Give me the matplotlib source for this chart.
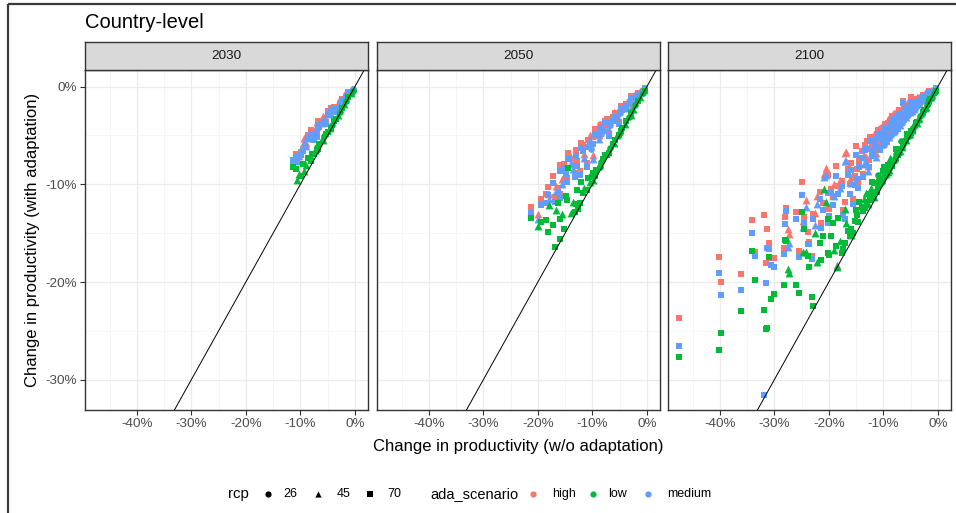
import numpy as np
import matplotlib.pyplot as plt
from matplotlib.ticker import FuncFormatter, MultipleLocator

plt.rcParams['font.family'] = ['Liberation Sans', 'DejaVu Sans']

# ---------------- data (percent change in productivity) ----------------
years = ['2030', '2050', '2100']
scen_colors = {'high': '#F8766D', 'low': '#00BA38', 'medium': '#619CFF'}
rcp_markers = {26: 'o', 45: '^', 70: 's'}

# one row per country/rcp: x = w/o adaptation, then y for each ada_scenario
x_2030 = [-11.4, -9.5, -9.0, -8.6, -8.2, -7.8, -7.3, -6.9, -6.5, -6.0, -5.6, -5.0, -4.6, -4.2,
          -3.8, -3.1, -2.8, -2.4, -2.0, -1.6, -1.2, -0.8, -0.4, -10.2, -7.0, -5.3, -3.5, -9.9,
          -10.8, -9.3, -8.0, -6.7, -5.8, -4.4, -7.5, -10.6]
rcp_2030 = [70, 70, 45, 70, 26, 70, 45, 26, 70, 45, 26, 70, 45, 26,
            70, 45, 26, 70, 45, 26, 70, 45, 26, 45, 70, 70, 70, 70,
            70, 45, 70, 70, 45, 70, 70, 45]
high_2030 = [-7.5, -6.4, -5.8, -5.0, -5.1, -4.6, -4.4, -3.9, -3.8, -3.4, -3.3, -2.5, -2.6, -2.3,
             -2.1, -1.7, -1.5, -1.3, -1.1, -0.8, -0.6, -0.4, -0.2, -6.8, -4.9, -3.6, -2.4, -6.7,
             -6.9, -5.3, -4.4, -3.5, -3.0, -2.2, -5.2, -7.3]
med_2030 = [-7.6, -6.6, -6.1, -5.4, -5.4, -4.9, -4.7, -4.3, -4.1, -3.7, -3.5, -2.9, -2.8, -2.5,
            -2.3, -1.9, -1.7, -1.4, -1.2, -0.9, -0.7, -0.5, -0.2, -7.1, -5.2, -3.8, -2.6, -7.0,
            -7.2, -5.7, -4.8, -3.9, -3.3, -2.5, -5.5, -7.6]
low_2030 = [-8.2, -7.9, -8.0, -7.3, -7.3, -6.9, -6.5, -6.2, -5.9, -5.4, -5.1, -4.6, -4.2, -3.9,
            -3.5, -2.9, -2.6, -2.2, -1.8, -1.5, -1.1, -0.7, -0.4, -8.9, -6.5, -4.9, -3.3, -9.2,
            -8.4, -8.6, -7.6, -6.4, -5.5, -4.2, -6.9, -9.6]

x_2050 = [-21.2, -18.2, -18.5, -17.9, -16.6, -15.6, -16.3, -14.5, -14.6, -14.8, -12.7, -12.8,
          -12.1, -13.5, -11.5, -10.8, -10.2, -9.8, -9.3, -8.8, -8.4, -8.0, -7.6, -7.2, -6.8,
          -6.3, -5.9, -5.4, -5.0, -4.5, -4.1, -3.8, -3.3, -2.9, -2.5, -2.1, -1.6, -1.2, -0.8,
          -0.4, -11.0, -9.9, -13.2, -15.2, -16.9, -7.0, -5.2, -3.0,
          -19.5, -17.2, -15.9, -14.0, -13.0, -11.8, -10.5, -9.6, -8.6, -7.4, -6.1, -4.8,
          -20.0, -16.0, -12.3]
rcp_2050 = [70, 70, 70, 45, 45, 45, 70, 70, 70, 70, 70, 70,
            70, 45, 45, 70, 26, 70, 70, 45, 26, 70, 70, 45, 26,
            70, 70, 45, 26, 70, 45, 70, 26, 70, 45, 26, 70, 45, 26,
            70, 70, 45, 70, 70, 70, 70, 70, 45,
            70, 70, 70, 45, 70, 70, 45, 70, 26, 70, 45, 70,
            45, 70, 70]
high_2050 = [-12.3, -10.3, -11.0, -11.0, -10.2, -9.5, -10.4, -6.8, -9.4, -8.6, -9.0, -7.6,
             -5.8, -7.9, -6.9, -5.5, -6.0, -5.2, -4.6, -5.0, -4.4, -4.0, -3.5, -3.8, -3.5,
             -3.1, -2.7, -2.7, -2.4, -2.2, -2.0, -1.8, -1.5, -1.0, -1.1, -0.9, -0.7, -0.5, -0.3,
             -0.1, -7.8, -7.0, -8.8, -7.9, -11.3, -4.8, -3.6, -2.1,
             -11.5, -9.2, -8.0, -7.2, -6.5, -6.0, -5.0, -4.3, -3.8, -3.3, -2.6, -2.0,
             -13.0, -11.0, -8.6]
med_2050 = [-12.9, -11.1, -11.9, -11.5, -10.7, -10.0, -10.9, -7.4, -9.8, -9.0, -12.2, -8.1,
            -6.3, -8.4, -7.3, -6.2, -6.4, -5.9, -5.0, -5.4, -4.8, -4.5, -3.7, -4.2, -3.9,
            -3.5, -3.1, -3.0, -2.7, -2.4, -2.2, -2.0, -1.7, -1.3, -1.3, -1.1, -0.8, -0.6, -0.4,
            -0.2, -8.2, -7.4, -9.3, -8.3, -11.8, -5.1, -3.8, -2.3,
            -12.1, -9.9, -8.6, -7.8, -7.1, -6.6, -5.5, -4.8, -4.2, -3.7, -3.0, -2.3,
            -13.5, -11.4, -9.0]
low_2050 = [-13.4, -14.9, -13.7, -12.1, -12.6, -13.0, -11.9, -8.3, -11.6, -11.2, -12.5, -10.6,
            -9.8, -11.8, -10.4, -9.4, -9.2, -8.8, -8.5, -8.0, -7.7, -7.4, -7.0, -6.7, -6.3,
            -5.9, -5.5, -5.0, -4.7, -4.2, -3.8, -3.5, -3.1, -2.7, -2.3, -1.9, -1.5, -1.1, -0.7,
            -0.4, -10.6, -9.6, -12.8, -14.6, -16.4, -6.8, -5.0, -2.9,
            -13.9, -14.2, -13.5, -12.9, -12.0, -10.9, -9.8, -9.1, -8.2, -7.0, -5.8, -4.5,
            -14.3, -15.6, -11.9]

x_2100 = [-47.4, -40.2, -39.8, -36.2, -34.1, -33.5, -31.9, -31.6, -31.3, -30.6, -30.1, -31.0,
          -28.3, -28.1, -27.8, -27.5, -27.4, -26.0, -25.5, -24.9, -24.8, -24.2, -24.5, -23.9,
          -23.7, -23.1, -22.9, -22.6, -22.1, -21.4, -21.0, -20.8, -20.5, -20.2, -20.2, -19.9,
          -19.6, -19.0, -18.7, -18.5, -18.3, -17.1, -17.1, -16.8, -16.2, -15.9, -15.2, -15.0,
          -14.9, -14.0, -13.5, -13.0, -12.6, -12.2, -11.6, -11.2, -10.8, -10.4, -10.0, -9.6,
          -9.2, -9.0, -8.7, -8.3, -8.0, -7.6, -7.2, -6.8, -6.4, -6.0, -5.6, -5.2, -4.9, -4.5,
          -4.0, -3.6, -3.2, -2.8, -2.4, -2.0, -1.6, -1.2, -0.8, -0.4, -11.9, -11.4, -10.6,
          -9.9, -9.4, -8.9, -8.5, -7.9, -7.4, -7.0, -6.6, -6.2, -5.8, -5.4, -5.0, -4.7, -4.2,
          -3.8, -3.4, -3.0, -2.6, -2.2, -1.8, -1.4, -1.0, -0.6, -13.8, -12.9, -14.6, -16.0,
          -17.6, -15.5,
          -13.3, -12.4, -11.8, -11.0, -10.3, -9.7, -9.1, -8.4, -7.8, -7.1, -6.5, -5.9, -5.3,
          -4.6, -3.9, -13.1, -12.0, -10.9, -9.8, -8.8, -7.7, -6.7, -5.6, -4.4, -14.4, -16.5,
          -18.0, -19.3, -21.7, -17.4]
rcp_2100 = [70, 70, 70, 70, 70, 70, 70, 70, 70, 70, 70, 70,
            70, 70, 70, 45, 45, 70, 70, 70, 45, 45, 70, 70,
            70, 70, 70, 45, 45, 70, 70, 45, 45, 70, 70, 70,
            70, 45, 70, 45, 70, 70, 45, 45, 70, 70, 70, 70,
            70, 70, 45, 70, 70, 45, 70, 70, 45, 70, 70, 45,
            70, 26, 70, 45, 70, 26, 70, 45, 70, 26, 70, 45, 70, 26,
            70, 45, 26, 70, 45, 26, 70, 45, 26, 70, 70, 45, 70,
            26, 70, 45, 70, 26, 70, 45, 26, 70, 45, 26, 70, 45, 26,
            70, 45, 26, 70, 45, 26, 70, 45, 26, 70, 45, 70, 45,
            70, 70,
            70, 70, 45, 70, 26, 70, 45, 70, 26, 70, 45, 70, 26,
            70, 45, 45, 70, 26, 70, 45, 70, 26, 70, 45, 70, 70,
            45, 70, 70, 70]
high_2100 = [-23.7, -17.4, -20.0, -19.2, -13.7, -16.9, -13.1, -18.1, -14.6, -17.5, -17.5, -16.0,
             -16.5, -13.3, -12.4, -14.6, -15.1, -12.8, -16.8, -9.8, -13.8, -11.6, -13.3, -14.9,
             -15.9, -17.3, -13.0, -12.9, -11.2, -14.0, -11.9, -8.9, -8.3, -9.0, -13.6, -12.5,
             -10.5, -10.0, -8.1, -18.3, -10.2, -11.8, -6.8, -6.7, -10.0, -7.8, -9.2, -6.1,
             -8.4, -6.6, -7.0, -5.6, -7.5, -5.8, -5.3, -4.9, -5.9, -4.3, -4.8, -4.0,
             -3.7, -4.6, -3.5, -3.9, -3.1, -3.4, -2.6, -2.9, -1.5, -2.5, -2.0, -2.2, -1.1, -1.8,
             -1.3, -1.4, -1.1, -0.9, -0.8, -0.6, -0.5, -0.4, -0.3, -0.1, -6.2, -6.8, -6.0,
             -5.5, -5.4, -4.9, -4.6, -4.1, -3.9, -3.4, -3.3, -3.0, -2.8, -2.6, -2.4, -2.2, -2.0,
             -1.7, -1.6, -1.3, -1.1, -0.9, -0.8, -0.6, -0.4, -0.2, -8.9, -8.1, -9.8, -9.3,
             -9.7, -11.5,
             -6.0, -5.2, -4.8, -4.4, -4.1, -3.8, -3.3, -3.0, -2.7, -2.4, -2.1, -1.9, -1.6,
             -1.4, -1.1, -7.2, -6.6, -5.8, -5.1, -4.4, -3.8, -3.2, -2.6, -2.0, -7.6, -8.4,
             -9.6, -11.3, -10.8, -12.6]
med_2100 = [-26.6, -19.1, -21.3, -20.8, -15.0, -17.3, -31.6, -20.1, -16.5, -18.3, -18.5, -16.6,
            -17.1, -14.1, -12.7, -16.4, -16.0, -13.6, -17.4, -11.1, -14.4, -12.3, -14.0, -16.1,
            -16.1, -17.6, -13.5, -14.2, -12.0, -14.5, -12.6, -9.3, -9.0, -10.9, -14.0, -13.2,
            -10.9, -11.2, -9.2, -18.4, -11.0, -13.6, -7.6, -7.6, -11.0, -8.5, -10.1, -7.0,
            -9.5, -7.3, -7.9, -6.4, -8.2, -6.9, -6.0, -5.3, -6.3, -5.1, -5.5, -4.8,
            -4.3, -5.2, -4.0, -4.5, -3.6, -3.9, -3.2, -3.5, -1.7, -2.9, -2.4, -2.6, -1.6, -2.1,
            -1.6, -1.7, -1.3, -1.1, -1.0, -0.8, -0.6, -0.5, -0.3, -0.2, -6.6, -7.2, -6.5,
            -6.0, -5.7, -5.2, -4.9, -4.6, -4.3, -3.9, -3.7, -3.4, -3.1, -2.9, -2.7, -2.5, -2.3,
            -2.0, -1.8, -1.5, -1.3, -1.1, -0.9, -0.7, -0.5, -0.3, -9.3, -8.6, -10.4, -9.9,
            -10.2, -12.0,
            -6.5, -5.6, -5.3, -4.8, -4.6, -4.2, -3.9, -3.4, -3.1, -2.8, -2.5, -2.2, -2.0,
            -1.7, -1.4, -7.7, -7.1, -6.2, -5.5, -4.8, -4.1, -3.6, -3.0, -2.3, -8.2, -9.0,
            -10.4, -12.1, -11.5, -13.1]
low_2100 = [-27.7, -27.0, -25.2, -23.0, -16.8, -19.8, -22.9, -24.8, -24.7, -21.7, -21.2, -17.4,
            -20.3, -15.7, -15.8, -18.7, -19.1, -20.3, -21.1, -12.8, -16.9, -16.9, -14.6, -17.3,
            -18.5, -21.5, -22.5, -15.0, -18.0, -17.7, -15.3, -10.5, -11.8, -13.6, -17.0, -17.2,
            -15.3, -16.7, -16.3, -18.5, -13.4, -16.0, -12.5, -14.0, -15.3, -14.6, -13.8, -12.6,
            -13.1, -12.3, -11.5, -11.8, -11.0, -10.4, -9.9, -10.8, -9.2, -9.6, -8.6, -8.9,
            -8.0, -8.4, -7.9, -7.4, -7.6, -6.9, -6.8, -6.1, -5.9, -5.5, -5.2, -4.8, -4.5, -4.2,
            -3.7, -3.3, -3.0, -2.6, -2.2, -1.9, -1.5, -1.1, -0.7, -0.4, -11.0, -10.5, -10.0,
            -9.3, -8.7, -8.5, -8.1, -7.4, -7.0, -6.6, -6.2, -5.8, -5.5, -5.1, -4.7, -4.4, -3.9,
            -3.6, -3.2, -2.8, -2.4, -2.1, -1.7, -1.3, -0.9, -0.6, -12.7, -12.0, -13.9, -15.2,
            -17.0, -15.0,
            -12.4, -11.6, -11.3, -10.3, -9.8, -9.2, -8.7, -8.0, -7.5, -6.8, -6.2, -5.6, -5.1,
            -4.4, -3.7, -10.9, -9.8, -9.0, -8.2, -7.3, -6.4, -5.6, -4.8, -3.8, -11.8, -14.8,
            -15.8, -14.0, -16.0, -16.6]

panel_data = {
    '2030': (x_2030, rcp_2030, high_2030, med_2030, low_2030),
    '2050': (x_2050, rcp_2050, high_2050, med_2050, low_2050),
    '2100': (x_2100, rcp_2100, high_2100, med_2100, low_2100),
}

# ---------------- layout (pixels of a 956x513 figure) ----------------
W, H = 956, 513
fig = plt.figure(figsize=(W / 100, H / 100), dpi=100)
fig.patch.set_facecolor('white')

panel_left = [85, 377, 668]
panel_w = 283
panel_top, panel_bot = 70, 410
strip_top = 42

pct = FuncFormatter(lambda v, _: f'{v:.0f}%')

for i, yr in enumerate(years):
    l = panel_left[i]
    ax = fig.add_axes([l / W, 1 - panel_bot / H, panel_w / W, (panel_bot - panel_top) / H])
    xs, rcps, yh, ym, yl = panel_data[yr]
    xs = np.array(xs)
    rcps = np.array(rcps)
    for scen, ys in [('high', yh), ('medium', ym), ('low', yl)]:
        ys = np.array(ys)
        for r, mk in rcp_markers.items():
            m = rcps == r
            if not m.any():
                continue
            ax.scatter(xs[m], ys[m], marker=mk, s=32 if mk == '^' else 23,
                       color=scen_colors[scen], linewidths=0, zorder=3)
    ax.axline((0, 0), slope=1, color='black', lw=0.7, zorder=4)

    ax.set_xlim(-49.5, 2.4)
    ax.set_ylim(-33.1, 1.7)
    ax.xaxis.set_major_locator(MultipleLocator(10))
    ax.xaxis.set_minor_locator(MultipleLocator(5))
    ax.yaxis.set_major_locator(MultipleLocator(10))
    ax.yaxis.set_minor_locator(MultipleLocator(5))
    ax.xaxis.set_major_formatter(pct)
    ax.yaxis.set_major_formatter(pct)
    ax.grid(which='major', color='#EBEBEB', lw=0.9, zorder=0)
    ax.grid(which='minor', color='#F2F2F2', lw=0.5, zorder=0)
    ax.set_axisbelow(True)
    for sp in ax.spines.values():
        sp.set_color('#333333')
        sp.set_linewidth(1.0)
    ax.tick_params(which='major', length=3.5, width=0.8, color='#333333',
                   labelcolor='#4D4D4D', labelsize=9.7, pad=2.5)
    ax.tick_params(which='minor', length=0)
    if i > 0:
        ax.tick_params(axis='y', which='both', left=False, labelleft=False)

    # facet strip
    sax = fig.add_axes([l / W, 1 - panel_top / H, panel_w / W, (panel_top - strip_top) / H])
    sax.set_facecolor('#D9D9D9')
    sax.set_xticks([])
    sax.set_yticks([])
    for sp in sax.spines.values():
        sp.set_color('#333333')
        sp.set_linewidth(1.0)
    sax.text(0.5, 0.5, yr, ha='center', va='center', fontsize=9.7, color='#1A1A1A',
             transform=sax.transAxes)

# ---------------- overlay: titles, legend, frame ----------------
ov = fig.add_axes([0, 0, 1, 1])
ov.set_xlim(0, W)
ov.set_ylim(H, 0)
ov.axis('off')

ov.plot([8, W], [4, 4], color='#3A3A3A', lw=1.6, solid_capstyle='butt')
ov.plot([8, 8], [4, H], color='#3A3A3A', lw=1.6, solid_capstyle='butt')

ov.text(85, 23, 'Country-level', fontsize=14.5, ha='left', va='center', color='black')
ov.text(518, 446, 'Change in productivity (w/o adaptation)', fontsize=12,
        ha='center', va='center', color='black')
ov.text(33, 240, 'Change in productivity (with adaptation)', fontsize=12,
        ha='center', va='center', rotation=90, color='black')

leg_y = 494
ov.text(228, leg_y, 'rcp', fontsize=10.8, ha='left', va='center')
for xm, mk, lab, xt in [(268, 'o', '26', 283), (318, '^', '45', 337), (370, 's', '70', 387)]:
    ov.scatter([xm], [leg_y], marker=mk, s=20, color='black', linewidths=0)
    ov.text(xt, leg_y, lab, fontsize=9, ha='left', va='center', color='black')

ov.text(430, leg_y, 'ada_scenario', fontsize=10.5, ha='left', va='center')
for xm, scen, xt in [(533, 'high', 552), (593, 'low', 608), (648, 'medium', 667)]:
    ov.scatter([xm], [leg_y], marker='o', s=20, color=scen_colors[scen], linewidths=0)
    ov.text(xt, leg_y, scen, fontsize=9, ha='left', va='center', color='black')

fig.savefig('out.png', dpi=100)
